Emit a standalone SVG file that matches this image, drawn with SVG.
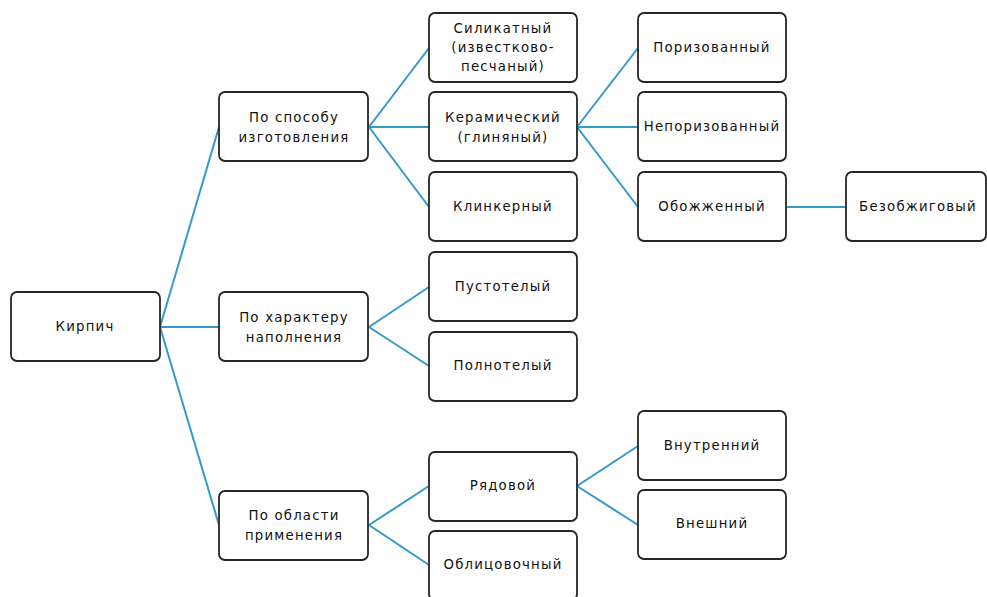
<svg xmlns="http://www.w3.org/2000/svg" width="987" height="597" viewBox="0 0 987 597">
<style>
rect.n{fill:#fff;stroke:#262626;stroke-width:1.8}
text{font-family:"DejaVu Sans","Verdana",sans-serif;font-size:13.3px;fill:#111;text-anchor:middle;letter-spacing:1.2px}
#connectors line{stroke:#3399cc;stroke-width:2}
</style>
<rect width="987" height="597" fill="#fff"/>
<g id="connectors">
<line x1="160" y1="327" x2="219" y2="127"/>
<line x1="160" y1="327" x2="219" y2="327"/>
<line x1="160" y1="327" x2="219" y2="525"/>
<line x1="369" y1="127" x2="429" y2="48"/>
<line x1="369" y1="127" x2="429" y2="127"/>
<line x1="369" y1="127" x2="429" y2="207"/>
<line x1="369" y1="327" x2="429" y2="287"/>
<line x1="369" y1="327" x2="429" y2="366"/>
<line x1="369" y1="525" x2="429" y2="486"/>
<line x1="369" y1="525" x2="429" y2="565"/>
<line x1="577" y1="127" x2="638" y2="48"/>
<line x1="577" y1="127" x2="638" y2="127"/>
<line x1="577" y1="127" x2="638" y2="207"/>
<line x1="787" y1="207" x2="846" y2="207"/>
<line x1="577" y1="486" x2="638" y2="446"/>
<line x1="577" y1="486" x2="638" y2="525"/>
</g>
<g id="n-kirpich"><rect class="n" x="11" y="292" width="149" height="69" rx="6"/><text x="85" y="331">Кирпич</text></g>
<g id="n-sposob"><rect class="n" x="219" y="92" width="149" height="69" rx="6"/><text x="294" y="122">По способу</text><text x="294" y="142">изготовления</text></g>
<g id="n-harakter"><rect class="n" x="219" y="292" width="149" height="69" rx="6"/><text x="294" y="322">По характеру</text><text x="294" y="342">наполнения</text></g>
<g id="n-oblast"><rect class="n" x="219" y="491" width="149" height="69" rx="6"/><text x="294" y="520">По области</text><text x="294" y="540">применения</text></g>
<g id="n-silikat"><rect class="n" x="429" y="13" width="148" height="69" rx="6"/><text x="503" y="33">Силикатный</text><text x="503" y="52">(известково-</text><text x="503" y="71">песчаный)</text></g>
<g id="n-keram"><rect class="n" x="429" y="92" width="148" height="69" rx="6"/><text x="503" y="122">Керамический</text><text x="503" y="142">(глиняный)</text></g>
<g id="n-klinker"><rect class="n" x="429" y="172" width="148" height="69" rx="6"/><text x="503" y="211">Клинкерный</text></g>
<g id="n-pustotel"><rect class="n" x="429" y="252" width="148" height="69" rx="6"/><text x="503" y="291">Пустотелый</text></g>
<g id="n-polnotel"><rect class="n" x="429" y="332" width="148" height="69" rx="6"/><text x="503" y="370">Полнотелый</text></g>
<g id="n-ryadovoy"><rect class="n" x="429" y="452" width="148" height="69" rx="6"/><text x="503" y="490">Рядовой</text></g>
<g id="n-oblicovoch"><rect class="n" x="429" y="531" width="148" height="69" rx="6"/><text x="503" y="569">Облицовочный</text></g>
<g id="n-poriz"><rect class="n" x="638" y="13" width="148" height="69" rx="6"/><text x="712" y="52">Поризованный</text></g>
<g id="n-neporiz"><rect class="n" x="638" y="92" width="148" height="69" rx="6"/><text x="712" y="131">Непоризованный</text></g>
<g id="n-obozh"><rect class="n" x="638" y="172" width="148" height="69" rx="6"/><text x="712" y="211">Обожженный</text></g>
<g id="n-bezobzh"><rect class="n" x="846" y="172" width="140" height="69" rx="6"/><text x="918" y="211">Безобжиговый</text></g>
<g id="n-vnutr"><rect class="n" x="638" y="411" width="148" height="69" rx="6"/><text x="712" y="450">Внутренний</text></g>
<g id="n-vnesh"><rect class="n" x="638" y="490" width="148" height="69" rx="6"/><text x="712" y="528">Внешний</text></g>
</svg>
